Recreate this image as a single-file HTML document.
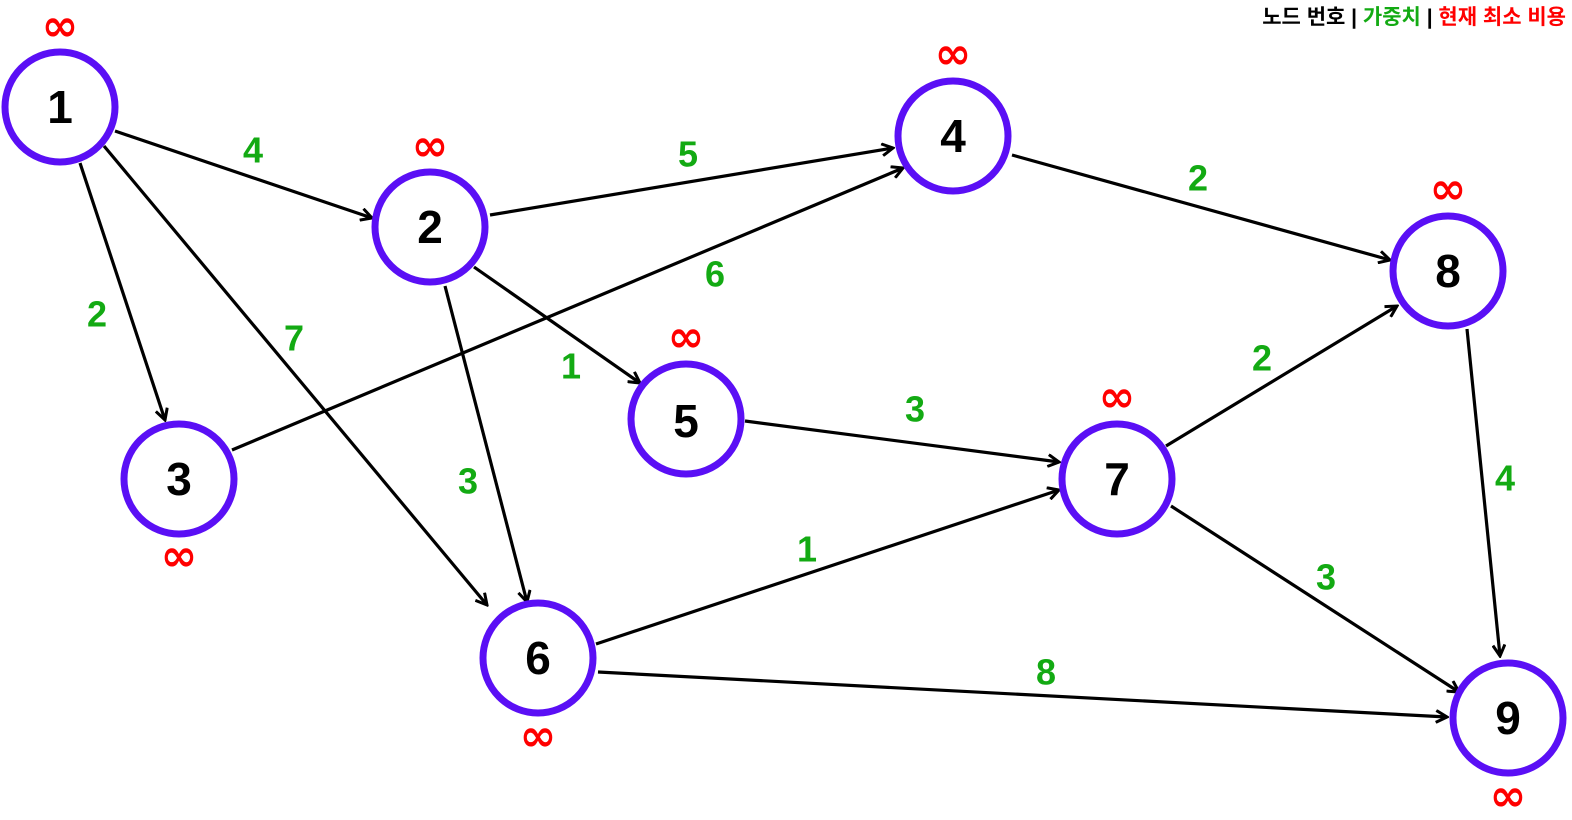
<!DOCTYPE html>
<html><head><meta charset="utf-8"><style>
html,body{margin:0;padding:0;background:#fff;}
svg{display:block;}
.n{font:bold 46px "Liberation Sans",sans-serif;fill:#000;}
.w{font:bold 36px "Liberation Sans",sans-serif;fill:#13aa13;}
.i{font:bold 44px "DejaVu Sans",sans-serif;fill:#f00;}
</style></head><body>
<svg width="1572" height="820" viewBox="0 0 1572 820" xmlns="http://www.w3.org/2000/svg">
<defs><marker id="a" markerWidth="14" markerHeight="14" refX="12" refY="7" orient="auto" markerUnits="userSpaceOnUse">
<path d="M1,1 L12,7 L1,13" fill="none" stroke="#000" stroke-width="3"/></marker></defs>
<g stroke="#000" stroke-width="3.2" marker-end="url(#a)">
<line x1="115" y1="131" x2="372" y2="218"/>
<line x1="80" y1="163" x2="165" y2="420"/>
<line x1="104" y1="146" x2="487" y2="605"/>
<line x1="490" y1="215" x2="893" y2="148"/>
<line x1="474" y1="267" x2="640" y2="383"/>
<line x1="445" y1="286" x2="527" y2="602"/>
<line x1="232" y1="450" x2="903" y2="168"/>
<line x1="1012" y1="155" x2="1390" y2="260"/>
<line x1="745" y1="421" x2="1059" y2="462"/>
<line x1="596" y1="644" x2="1059" y2="490"/>
<line x1="598" y1="672" x2="1447" y2="717"/>
<line x1="1166" y1="446" x2="1397" y2="306"/>
<line x1="1171" y1="506" x2="1459" y2="692"/>
<line x1="1467" y1="329" x2="1500" y2="656"/>
</g>
<g fill="#fff" stroke="#5a0ff5" stroke-width="7">
<circle cx="60" cy="107" r="55"/><circle cx="430" cy="227" r="55"/><circle cx="179" cy="479" r="55"/>
<circle cx="953" cy="136" r="55"/><circle cx="686" cy="419" r="55"/><circle cx="538" cy="658" r="55"/>
<circle cx="1117" cy="479" r="55"/><circle cx="1448" cy="271" r="55"/><circle cx="1508" cy="718" r="55"/>
</g>
<g class="n" text-anchor="middle" dominant-baseline="central">
<text x="60" y="107">1</text><text x="430" y="227">2</text><text x="179" y="479">3</text>
<text x="953" y="136">4</text><text x="686" y="421">5</text><text x="538" y="658">6</text>
<text x="1117" y="479">7</text><text x="1448" y="271">8</text><text x="1508" y="718">9</text>
</g>
<g class="i" text-anchor="middle" dominant-baseline="central">
<text x="60" y="26">∞</text><text x="430" y="146">∞</text><text x="179" y="556">∞</text>
<text x="953" y="54">∞</text><text x="686" y="337">∞</text><text x="538" y="736">∞</text>
<text x="1117" y="397">∞</text><text x="1448" y="189">∞</text><text x="1508" y="796">∞</text>
</g>
<g class="w" text-anchor="middle" dominant-baseline="central">
<text x="253" y="150">4</text><text x="97" y="314">2</text><text x="294" y="338">7</text>
<text x="688" y="154">5</text><text x="715" y="274">6</text><text x="571" y="366">1</text>
<text x="468" y="481">3</text><text x="1198" y="178">2</text><text x="915" y="409">3</text>
<text x="807" y="549">1</text><text x="1262" y="358">2</text><text x="1046" y="672">8</text>
<text x="1326" y="577">3</text><text x="1505" y="478">4</text>
</g>
<text x="1566" y="24" text-anchor="end" style="font:bold 21px 'Liberation Sans','Noto Sans CJK KR',sans-serif"><tspan fill="#000">노드 번호 | </tspan><tspan fill="#13aa13">가중치</tspan><tspan fill="#000"> | </tspan><tspan fill="#f00">현재 최소 비용</tspan></text>
</svg>
</body></html>
